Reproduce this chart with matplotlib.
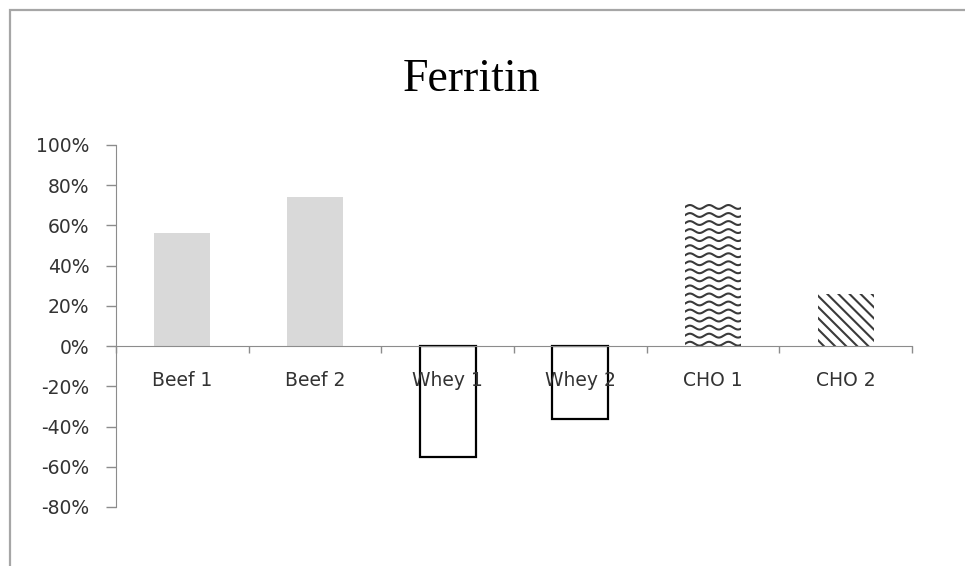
import matplotlib
matplotlib.use("Agg")
import numpy as np
import matplotlib.pyplot as plt
from matplotlib.patches import Rectangle
from matplotlib.ticker import PercentFormatter, FixedLocator

plt.rcParams.update({"font.family": ["DejaVu Sans"], "hatch.linewidth": 1.5,
                     "axes.unicode_minus": False})

# ---- data ----
categories = ["Beef 1", "Beef 2", "Whey 1", "Whey 2", "CHO 1", "CHO 2"]
values = [0.56, 0.74, -0.55, -0.36, 0.71, 0.26]
yticks = [-0.8, -0.6, -0.4, -0.2, 0.0, 0.2, 0.4, 0.6, 0.8, 1.0]

# ---- styles ----
GRAY_BAR = "#d9d9d9"
AXIS = "#8c8c8c"
TXT = "#333333"
W = 0.42

fig = plt.figure(figsize=(9.65, 5.66), dpi=100)
# outer chart frame (runs off right / bottom edge as in the reference)
fig.add_artist(Rectangle((10 / 965, -0.1), 1.2, 1.1 - 10 / 566,
                         transform=fig.transFigure, fill=False,
                         ec="#a6a6a6", lw=1.6))

ax = fig.add_axes([116 / 965, 59 / 566, (912 - 116) / 965, (507 - 145) / 566])
x = np.arange(len(categories))

bars = ax.bar(x, values, width=W, zorder=1.5)
for i, b in enumerate(bars):
    if i < 2:
        b.set_facecolor(GRAY_BAR); b.set_edgecolor("none")
    elif i < 4:
        b.set_facecolor("white"); b.set_edgecolor("black"); b.set_linewidth(1.6)
    elif i == 4:
        b.set_facecolor("white"); b.set_edgecolor("none")
    else:
        b.set_facecolor("white"); b.set_edgecolor("#3a3a3a"); b.set_linewidth(0)
        b.set_hatch("\\\\\\")

# wave fill for CHO 1, clipped to its bar
wb = bars[4]
x0, bw = wb.get_x(), wb.get_width()
h = wb.get_height()
xs = np.linspace(x0 - 0.05, x0 + bw + 0.05, 400)
period = 0.145
for yy in np.arange(0.012, h + 0.04, 0.04):
    ln, = ax.plot(xs, yy + 0.0095 * np.sin(2 * np.pi * (xs - x0) / period),
                  color="#3a3a3a", lw=1.5, zorder=1.6)
    ln.set_clip_path(wb)

ax.set_xlim(-0.5, len(categories) - 0.5)
ax.set_ylim(-0.8, 1.0)
ax.set_yticks(yticks)
ax.yaxis.set_major_formatter(PercentFormatter(1.0, decimals=0))

ax.set_xticks(x)
ax.set_xticklabels(categories)
ax.xaxis.set_minor_locator(FixedLocator(np.arange(-0.5, len(categories), 1.0)))
ax.tick_params(axis="x", which="major", length=0, pad=18, labelsize=13.5, colors=TXT)
ax.tick_params(axis="x", which="minor", length=5, width=1, color=AXIS, direction="out")
ax.tick_params(axis="y", length=7, width=1, color=AXIS, pad=12, labelsize=13.5,
               labelcolor=TXT, direction="out")

for s in ("top", "right"):
    ax.spines[s].set_visible(False)
ax.spines["bottom"].set_position(("data", 0))
ax.spines["bottom"].set_color(AXIS)
ax.spines["left"].set_color(AXIS)
ax.patch.set_alpha(0)

fig.text(472 / 965, 1 - 80 / 566, "Ferritin", ha="center", va="center",
         fontsize=33, family=["Liberation Serif", "DejaVu Serif"], color="black")

fig.savefig("out.png", dpi=100, facecolor="white")
